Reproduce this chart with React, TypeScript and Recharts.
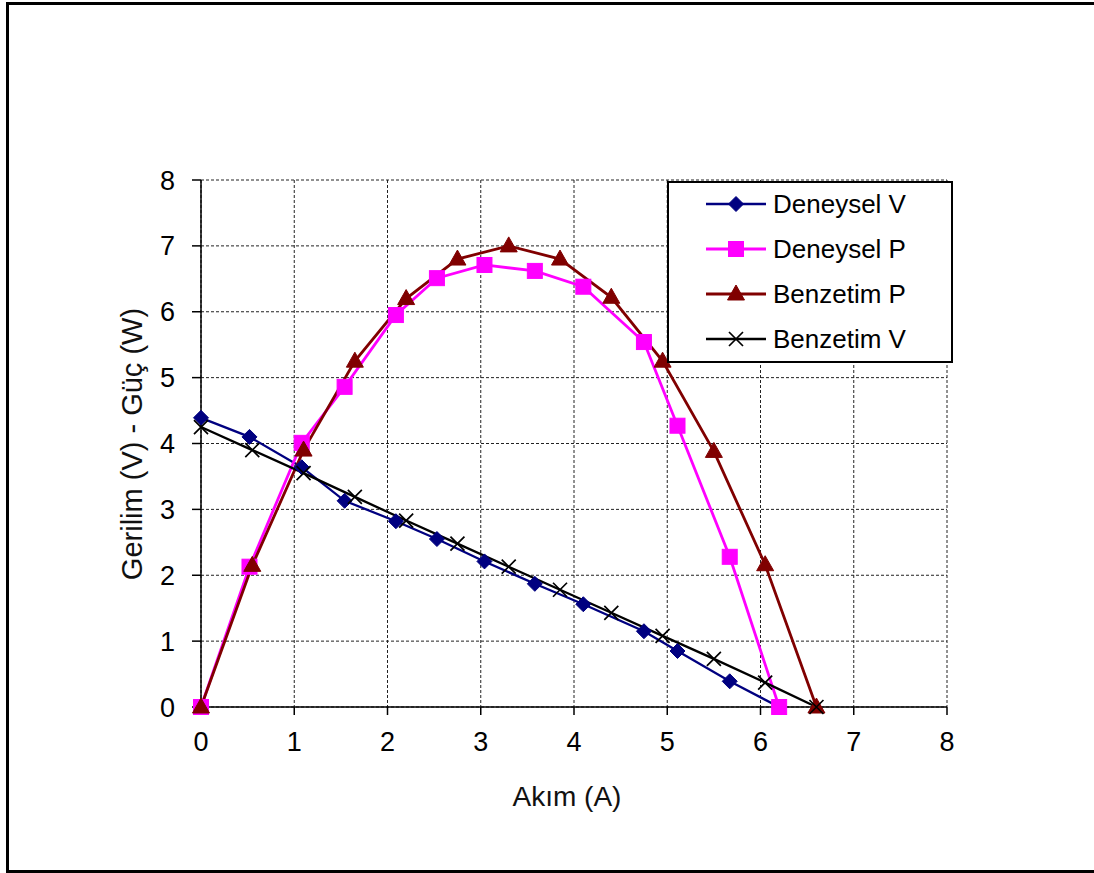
import React from 'react';
import { ComposedChart, Line, XAxis, YAxis, CartesianGrid, Legend, Label } from 'recharts';

// Akım (A) values
const currentExp = [0, 0.52, 1.08, 1.54, 2.09, 2.53, 3.04, 3.58, 4.1, 4.75, 5.11, 5.67, 6.2];
const currentSim = [0, 0.55, 1.1, 1.65, 2.2, 2.75, 3.3, 3.85, 4.4, 4.95, 5.5, 6.05, 6.6];
// Series values
const voltageExp = [4.39, 4.1, 3.64, 3.13, 2.82, 2.55, 2.21, 1.87, 1.56, 1.15, 0.85, 0.39, 0];
const powerExp = [0, 2.13, 4.01, 4.86, 5.95, 6.51, 6.71, 6.62, 6.38, 5.54, 4.27, 2.28, 0];
const powerSim = [0, 2.15, 3.9, 5.25, 6.2, 6.8, 7.0, 6.8, 6.22, 5.25, 3.88, 2.16, 0];
const voltageSim = [4.25, 3.9, 3.55, 3.19, 2.83, 2.48, 2.13, 1.78, 1.43, 1.08, 0.73, 0.37, 0];
// Labels and ticks
const seriesNames = ['Deneysel V', 'Deneysel P', 'Benzetim P', 'Benzetim V'];
const axisTicks = [0, 1, 2, 3, 4, 5, 6, 7, 8];
const xTitle = 'Akım (A)';
const yTitle = 'Gerilim (V) - Güç (W)';

const toPoints = (xs: number[], ys: number[]) => xs.map((x, i) => ({ x, y: ys[i] }));
const dataDV = toPoints(currentExp, voltageExp);
const dataDP = toPoints(currentExp, powerExp);
const dataBP = toPoints(currentSim, powerSim);
const dataBV = toPoints(currentSim, voltageSim);

const FONT = '"Liberation Sans", Arial, sans-serif';

type Kind = 'diamond' | 'square' | 'triangle' | 'x';
const styles: { kind: Kind; color: string; width: number }[] = [
  { kind: 'diamond', color: '#000080', width: 2.3 },
  { kind: 'square', color: '#FF00FF', width: 2.8 },
  { kind: 'triangle', color: '#800000', width: 2.8 },
  { kind: 'x', color: '#000000', width: 2.3 },
];

const Marker = ({ kind, cx, cy, color }: { kind: Kind; cx: number; cy: number; color: string }) => {
  if (kind === 'diamond') {
    const s = 7.5;
    return <path d={`M${cx},${cy - s}L${cx + s},${cy}L${cx},${cy + s}L${cx - s},${cy}Z`} fill={color} stroke={color} strokeWidth={1} />;
  }
  if (kind === 'square') {
    const s = 7.5;
    return <rect x={cx - s} y={cy - s} width={2 * s} height={2 * s} fill={color} stroke={color} strokeWidth={1} />;
  }
  if (kind === 'triangle') {
    return <path d={`M${cx},${cy - 9}L${cx + 8.5},${cy + 6}L${cx - 8.5},${cy + 6}Z`} fill={color} stroke={color} strokeWidth={1} />;
  }
  const s = 7;
  return (
    <path d={`M${cx - s},${cy - s}L${cx + s},${cy + s}M${cx - s},${cy + s}L${cx + s},${cy - s}`} stroke={color} strokeWidth={1.7} fill="none" />
  );
};

const makeDot = (idx: number) => (props: any) => {
  const { cx, cy, index } = props;
  if (cx == null || cy == null) return <g key={`e-${idx}-${index}`} />;
  return (
    <g key={`d-${idx}-${index}`}>
      <Marker kind={styles[idx].kind} cx={cx} cy={cy} color={styles[idx].color} />
    </g>
  );
};

const LegendBox = () => (
  <div
    style={{
      position: 'relative',
      width: 286,
      height: 182,
      boxSizing: 'border-box',
      border: '2px solid #000',
      background: '#fff',
      fontFamily: FONT,
    }}
  >
    {seriesNames.map((name, i) => (
      <div
        key={name}
        style={{ position: 'absolute', left: 0, top: 1 + i * 45, height: 40, width: '100%', display: 'flex', alignItems: 'center' }}
      >
        <svg width={64} height={24} style={{ marginLeft: 35, overflow: 'visible' }}>
          <line x1={2} y1={12} x2={62} y2={12} stroke={styles[i].color} strokeWidth={styles[i].width} />
          <Marker kind={styles[i].kind} cx={32} cy={12} color={styles[i].color} />
        </svg>
        <span style={{ marginLeft: 5, fontSize: 26, color: '#000', whiteSpace: 'nowrap' }}>{name}</span>
      </div>
    ))}
  </div>
);

export default function App() {
  const series = [dataDV, dataDP, dataBP, dataBV];
  return (
    <div style={{ position: 'fixed', left: 0, top: 0, width: 1094, height: 873, overflow: 'hidden', background: '#fff' }}>
      <div
        style={{
          position: 'absolute',
          left: 6,
          top: 2,
          width: 1200,
          height: 871,
          border: '3px solid #000',
          boxSizing: 'border-box',
        }}
      />
      <div style={{ position: 'absolute', left: 0, top: 0 }}>
        <ComposedChart width={1094} height={873} margin={{ top: 180, right: 147, bottom: 106, left: 0 }}>
          <CartesianGrid stroke="#222" strokeDasharray="3 2" strokeWidth={1} />
          <XAxis
            type="number"
            dataKey="x"
            domain={[0, 8]}
            ticks={axisTicks}
            interval={0}
            height={60}
            tickSize={8}
            tickMargin={17}
            axisLine={{ stroke: '#000', strokeWidth: 1.5 }}
            tickLine={{ stroke: '#000', strokeWidth: 1.5 }}
            tick={{ fill: '#000', fontSize: 27, fontFamily: FONT }}
          >
            <Label
              content={() => (
                <text x={567} y={806} textAnchor="middle" fontSize={28} fontFamily={FONT} fill="#111">
                  {xTitle}
                </text>
              )}
            />
          </XAxis>
          <YAxis
            type="number"
            dataKey="y"
            domain={[0, 8]}
            ticks={axisTicks}
            interval={0}
            width={201}
            tickSize={9}
            tickMargin={17}
            axisLine={{ stroke: '#000', strokeWidth: 1.5 }}
            tickLine={{ stroke: '#000', strokeWidth: 1.5 }}
            tick={{ fill: '#000', fontSize: 27, fontFamily: FONT }}
          >
            <Label
              content={() => (
                <text
                  x={142}
                  y={444}
                  textAnchor="middle"
                  fontSize={29}
                  fontFamily={FONT}
                  fill="#111"
                  transform="rotate(-90, 142, 444)"
                >
                  {yTitle}
                </text>
              )}
            />
          </YAxis>
          <Legend
            layout="vertical"
            align="center"
            verticalAlign="middle"
            content={() => <LegendBox />}
            wrapperStyle={{ left: 667, top: 181, width: 286, height: 182 }}
          />
          {series.map((d, i) => (
            <Line
              key={seriesNames[i]}
              name={seriesNames[i]}
              data={d}
              dataKey="y"
              type="linear"
              stroke={styles[i].color}
              strokeWidth={styles[i].width}
              dot={makeDot(i)}
              activeDot={false}
              isAnimationActive={false}
            />
          ))}
        </ComposedChart>
      </div>
    </div>
  );
}
